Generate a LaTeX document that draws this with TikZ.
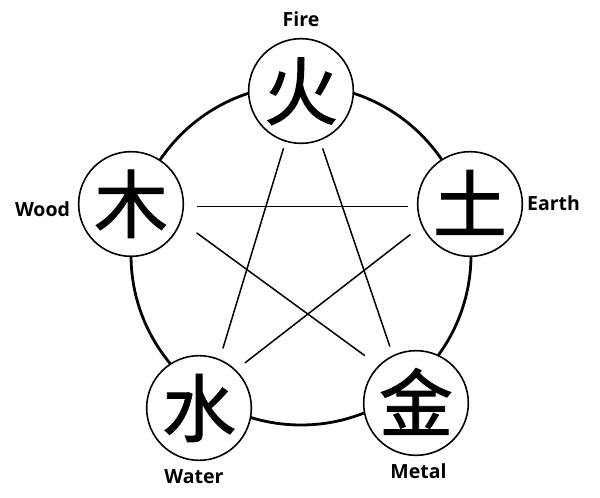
\documentclass[tikz,border=0pt]{standalone}
\usepackage{fontspec}
\setmainfont{Open Sans}
\newfontfamily\cjk[FakeBold=1.2]{Noto Sans CJK SC}
\begin{document}
\begin{tikzpicture}[x=1pt,y=-1pt,
  elem/.style={circle, draw, line width=1.6pt, fill=white, minimum size=102pt,
    inner sep=0pt, outer sep=0pt, font=\cjk\fontsize{74}{74}\selectfont,
    text height=65pt, text depth=9pt},
  lbl/.style={font=\bfseries\fontsize{19.5}{21}\selectfont, inner sep=0pt},
  star/.style={line width=1.5pt}]
\useasboundingbox (0,0) rectangle (600,498);
\draw[line width=2.8pt] (301,255) circle[radius=170pt];
\node[elem] (fire)  at (301,91)  {火};
\node[elem] (wood)  at (131,204) {木};
\node[elem] (earth) at (470,204) {土};
\node[elem] (water) at (199,408) {水};
\node[elem] (metal) at (416,403) {金};
\node[lbl] (firel)  at (301,19)  {Fire};
\node[lbl] (woodl)  at (42.5,209) {Wood};
\node[lbl] (earthl) at (553.5,203) {Earth};
\node[lbl] (waterl) at (194,476.5) {Water};
\node[lbl] (metall) at (418.5,471) {Metal};
\draw[star, shorten <=7.5pt, shorten >=12pt] (fire.-107) -- (water.67.5);
\draw[star, shorten <=9pt, shorten >=10pt] (fire.-69.4) -- (metal.116);
\draw[star, shorten <=14pt, shorten >=10pt] (wood.-3.5) -- (earth.183.8);
\draw[star, shorten <=20pt, shorten >=17.6pt] (wood.-19.7) -- (metal.135.6);
\draw[star, shorten <=15pt, shorten >=12pt] (earth.204.2) -- (water.46.9);
\end{tikzpicture}
\end{document}
